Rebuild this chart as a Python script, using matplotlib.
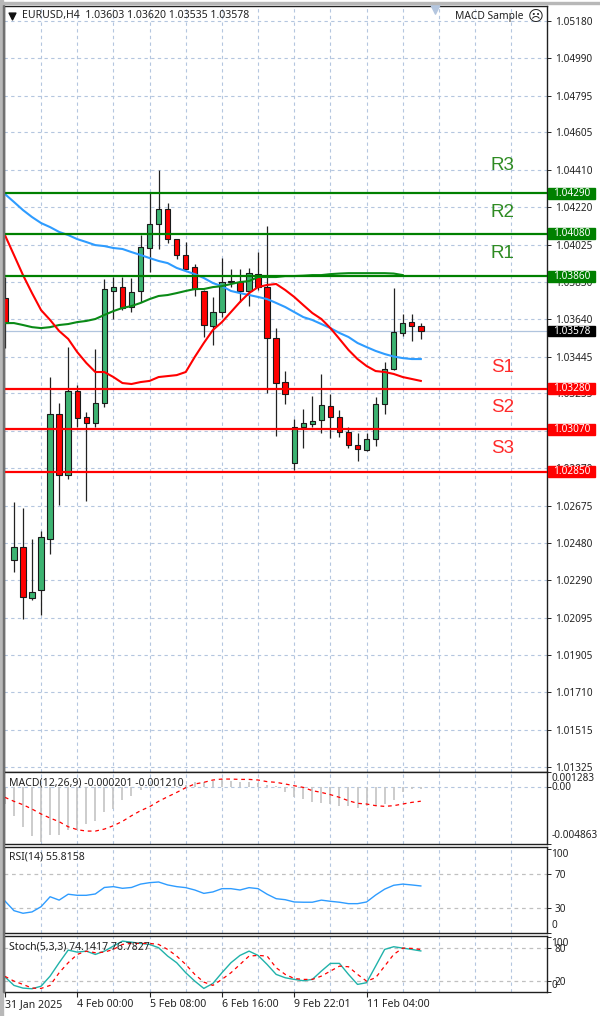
"""EURUSD H4 terminal screenshot: candles, MAs, S/R levels, MACD, RSI, Stoch."""

import matplotlib
matplotlib.use("Agg")
import matplotlib.pyplot as plt  # noqa: E402
from matplotlib.patches import Rectangle  # noqa: E402

opens = [1.03748, 1.02394, 1.02460, 1.02200, 1.02238, 1.02505, 1.03149, 1.02832, 1.03268, 1.03132,
         1.03101, 1.03207, 1.03785, 1.03804, 1.03703, 1.03785, 1.04005, 1.04129, 1.04207, 1.04053,
         1.03972, 1.03909, 1.03786, 1.03604, 1.03675, 1.03830, 1.03833, 1.03785, 1.03873, 1.03807,
         1.03540, 1.03313, 1.02894, 1.03083, 1.03097, 1.03118, 1.03190, 1.03135, 1.03056, 1.02990,
         1.02965, 1.03018, 1.03201, 1.03380, 1.03569, 1.03626, 1.03603]
highs = [1.03857, 1.02694, 1.02663, 1.02503, 1.02544, 1.03342, 1.03206, 1.03497, 1.03299, 1.03158,
         1.03485, 1.03847, 1.03859, 1.03859, 1.03852, 1.04074, 1.04291, 1.04410, 1.04239, 1.04053,
         1.04036, 1.03923, 1.03790, 1.03755, 1.03954, 1.03897, 1.03897, 1.03902, 1.03985, 1.04121,
         1.03592, 1.03373, 1.03122, 1.03173, 1.03244, 1.03355, 1.03251, 1.03170, 1.03083, 1.03049,
         1.03049, 1.03238, 1.03419, 1.03799, 1.03666, 1.03666, 1.03620]
lows = [1.03490, 1.02334, 1.02090, 1.02188, 1.02110, 1.02424, 1.02679, 1.02813, 1.03080, 1.02701,
        1.03082, 1.03187, 1.03640, 1.03687, 1.03678, 1.03729, 1.03883, 1.04000, 1.04031, 1.03952,
        1.03900, 1.03760, 1.03545, 1.03505, 1.03652, 1.03807, 1.03729, 1.03707, 1.03790, 1.03259,
        1.03035, 1.03199, 1.02860, 1.02972, 1.03083, 1.03052, 1.03023, 1.03029, 1.02972, 1.02908,
        1.02959, 1.02984, 1.03147, 1.03377, 1.03552, 1.03526, 1.03535]
closes = [1.03619, 1.02460, 1.02202, 1.02231, 1.02512, 1.03149, 1.02832, 1.03268, 1.03130, 1.03101,
          1.03207, 1.03793, 1.03804, 1.03697, 1.03779, 1.04014, 1.04129, 1.04207, 1.04052, 1.03971,
          1.03900, 1.03793, 1.03609, 1.03678, 1.03830, 1.03836, 1.03786, 1.03879, 1.03807, 1.03540,
          1.03307, 1.03252, 1.03083, 1.03101, 1.03114, 1.03195, 1.03135, 1.03056, 1.02990, 1.02967,
          1.03021, 1.03201, 1.03382, 1.03573, 1.03618, 1.03604, 1.03578]

ma_red = [1.04074, 1.03971, 1.03867, 1.03774, 1.03686, 1.03635, 1.03578, 1.03537, 1.03469, 1.03413,
          1.03366, 1.03366, 1.03340, 1.03309, 1.03304, 1.03314, 1.03320, 1.03340, 1.03345, 1.03350,
          1.03366, 1.03444, 1.03516, 1.03583, 1.03624, 1.03676, 1.03728, 1.03774, 1.03805, 1.03816,
          1.03821, 1.03790, 1.03754, 1.03712, 1.03671, 1.03640, 1.03593, 1.03537, 1.03480, 1.03433,
          1.03397, 1.03371, 1.03366, 1.03356, 1.03340, 1.03330, 1.03320]
ma_blue = [1.04286, 1.04245, 1.04203, 1.04167, 1.04136, 1.04115, 1.04090, 1.04074, 1.04053, 1.04038,
           1.04022, 1.04017, 1.04007, 1.04002, 1.03986, 1.03971, 1.03955, 1.03940, 1.03929, 1.03904,
           1.03888, 1.03872, 1.03852, 1.03826, 1.03810, 1.03785, 1.03774, 1.03764, 1.03754, 1.03743,
           1.03723, 1.03702, 1.03676, 1.03650, 1.03635, 1.03614, 1.03593, 1.03568, 1.03547, 1.03516,
           1.03495, 1.03475, 1.03459, 1.03446, 1.03438, 1.03433, 1.03433]
# the green average stops two bars before the others
ma_green = [1.03619, 1.03619, 1.03609, 1.03598, 1.03593, 1.03598, 1.03609, 1.03614, 1.03624, 1.03630,
            1.03640, 1.03661, 1.03681, 1.03697, 1.03707, 1.03723, 1.03743, 1.03759, 1.03764, 1.03774,
            1.03785, 1.03795, 1.03795, 1.03805, 1.03810, 1.03821, 1.03831, 1.03836, 1.03857, 1.03857,
            1.03857, 1.03862, 1.03862, 1.03864, 1.03867, 1.03867, 1.03872, 1.03875, 1.03877, 1.03877,
            1.03877, 1.03877, 1.03877, 1.03875, 1.03867]

macd_hist = [-.00145, -.00245, -.00344, -.00421, -.00467, -.00410, -.00410, -.00364, -.00367, -.00316,
             -.00287, -.00216, -.00188, -.00111, -.00074, -.00026, -.00011, -.00006, -.00003, .00006,
             .00017, .00040, .00046, .00054, .00068, .00051, .00046, .00040, .00034, .00017,
             .00011, -.00046, -.00088, -.00102, -.00131, -.00139, -.00145, -.00159, -.00159, -.00179,
             -.00159, -.00159, -.00145, -.00108, -.00046, -.00017, -.00020]
macd_signal = [-.00088, -.00122, -.00151, -.00188, -.00230, -.00265, -.00296, -.00339, -.00364, -.00376,
               -.00376, -.00359, -.00330, -.00293, -.00245, -.00202, -.00168, -.00122, -.00083, -.00046,
               -.00006, .00026, .00040, .00060, .00068, .00068, .00065, .00065, .00060, .00046,
               .00040, .00026, .00011, -.00003, -.00031, -.00046, -.00065, -.00088, -.00117, -.00139,
               -.00145, -.00159, -.00165, -.00159, -.00145, -.00131, -.00121]
rsi = [38, 26.5, 23.4, 25, 31.2, 43, 39, 46, 44.7, 44.7,
       46.3, 54, 55, 53, 54, 58, 59.7, 60.5, 57, 55,
       53.8, 51, 47, 48.7, 52.6, 52.6, 51, 53.8, 52.6, 46,
       40.7, 39.5, 36.8, 36.5, 36.5, 39, 37.6, 36.5, 34.8, 34.8,
       36.8, 45, 52, 56.6, 58, 57, 55.8]
stoch_main = [27, 11.5, 6.6, 5.4, 10, 28.4, 52.7, 75.7, 72, 73.8,
              67.8, 73.8, 83, 92, 90, 87.8, 86, 80, 64.8, 52.7,
              34.5, 19.3, 6, 15, 34.5, 52.7, 66, 73.8, 66, 49.6,
              31.5, 25.4, 22.4, 20, 22.4, 37.5, 51.5, 51.5, 31.5, 13.3,
              16.4, 46.5, 76.9, 81.8, 79.3, 76.9, 74.14]
stoch_signal = [28, 19.3, 13.3, 6.6, 6, 11.5, 34.5, 52.7, 67.8, 73.8,
                70.9, 72, 76.9, 86, 87.8, 87.8, 87.8, 86, 76.9, 64.8,
                49.6, 31.5, 17.5, 11.5, 22.4, 34.5, 49.6, 64.8, 66, 64.8,
                43.6, 31.5, 24, 22.4, 22.4, 28.4, 37.5, 46.5, 45.4, 31.5,
                19.3, 25.4, 46.5, 67.8, 79.3, 78.7, 76.78]

price_ticks = [1.05180, 1.04990, 1.04795, 1.04605, 1.04410, 1.04220, 1.04025, 1.03830, 1.03640, 1.03445,
               1.03255, 1.03060, 1.02870, 1.02675, 1.02480, 1.02290, 1.02095, 1.01905, 1.01710, 1.01515,
               1.01325]
resistance = [1.04290, 1.04080, 1.03860]
support = [1.03280, 1.03070, 1.02850]
res_names = ["R3", "R2", "R1"]
sup_names = ["S1", "S2", "S3"]
res_text_y = [1.04431, 1.04193, 1.03981]
sup_text_y = [1.03387, 1.03180, 1.02973]
last_price = 1.03578
time_pos = [0, 8, 16, 24, 32, 40]
time_labels = ["31 Jan 2025", "4 Feb 00:00", "5 Feb 08:00", "6 Feb 16:00", "9 Feb 22:01", "11 Feb 04:00"]

W, H = 600, 1016
LEFT, RIGHT = 4, 546.5
C_GRID = "#b4c6df"
C_UP = "#3cb371"
C_DOWN = "#ff0000"
C_RES = "#008000"
C_TEXT = "#222222"
FONT = "Noto Sans"

plt.rcParams["font.family"] = [FONT, "DejaVu Sans"]
plt.rcParams["font.size"] = 7.2


def panel(fig, top, bottom):
    ax = fig.add_axes([LEFT / W, 1 - bottom / H, (RIGHT - LEFT) / W, (bottom - top) / H])
    ax.set_xlim(-0.1, 59.9)
    for s in ax.spines.values():
        s.set_linewidth(1.0)
        s.set_color("#202020")
    ax.spines["left"].set_color("#404040")
    ax.yaxis.tick_right()
    ax.tick_params(axis="y", length=3, width=0.7, pad=3, colors=C_TEXT, labelsize=7.2)
    ax.set_xticks([])
    for i in range(4, 60, 4):
        ax.axvline(i, color=C_GRID, lw=0.8, ls=(0, (3, 3)), zorder=1)
    return ax


def side_box(ax, y, text, color):
    ax.add_patch(Rectangle((1.003, y - 0.00028), 0.087, 0.00056, transform=ax.get_yaxis_transform(),
                           color=color, clip_on=False, zorder=6))
    ax.text(1.0465, y, text, transform=ax.get_yaxis_transform(), ha="center", va="center",
            color="white", fontsize=7.2, zorder=7, clip_on=False)


def main():
    fig = plt.figure(figsize=(W / 100, H / 100), dpi=100, facecolor="white")

    # window bevel at the top and left
    fig.add_artist(Rectangle((0, 0), 2.5 / W, 1, transform=fig.transFigure, color="#b8b8b8"))
    fig.add_artist(Rectangle((2.5 / W, 1 - 992 / H), 1.5 / W, 987 / H, transform=fig.transFigure, color="#707070"))
    fig.add_artist(Rectangle((0, 1 - 4 / H), 1, 2 / H, transform=fig.transFigure, color="#b8b8b8"))

    # --- main price panel ---
    ax = panel(fig, 6, 771.5)
    ax.set_ylim(1.01301, 1.05258)
    ax.set_yticks(price_ticks)
    ax.set_yticklabels([f"{t:.5f}" for t in price_ticks])
    for t in price_ticks:
        ax.axhline(t, color=C_GRID, lw=0.8, ls=(0, (3, 3)), zorder=1)
    ax.axhline(last_price, color="#b0c4de", lw=0.9, zorder=1.5)

    x = list(range(len(closes)))
    ax.vlines(x, lows, highs, color="#222222", lw=0.9, zorder=2)
    for i in x:
        bottom, top = sorted((opens[i], closes[i]))
        color = C_UP if closes[i] >= opens[i] else C_DOWN
        ax.bar(i, max(top - bottom, 0.00003), bottom=bottom, width=0.6, color=color,
               edgecolor="#1a1a1a", linewidth=0.8, zorder=3)

    ax.plot(x, ma_blue, color="#2e9cff", lw=1.5, zorder=4)
    ax.plot(range(len(ma_green)), ma_green, color="#0a8a16", lw=1.5, zorder=4)
    ax.plot(x, ma_red, color=C_DOWN, lw=1.5, zorder=4)

    for lev in resistance:
        ax.axhline(lev, color=C_RES, lw=1.6, zorder=5)
        side_box(ax, lev, f"{lev:.5f}", C_RES)
    for lev in support:
        ax.axhline(lev, color=C_DOWN, lw=1.6, zorder=5)
        side_box(ax, lev, f"{lev:.5f}", C_DOWN)
    side_box(ax, last_price, f"{last_price:.5f}", "#000000")

    for name, y in zip(res_names, res_text_y):
        ax.text(53.75, y, name, color="#2e8b22", fontsize=13.5, family="Liberation Sans", va="center", zorder=6)
    for name, y in zip(sup_names, sup_text_y):
        ax.text(53.75, y, name, color="#ff2a2a", fontsize=13.5, family="Liberation Sans", va="center", zorder=6)

    def top_text(px, py, s, **kw):
        fig.text(px / W, 1 - py / H, s, va="center", color=C_TEXT, **kw)

    top_text(22, 15.5, "EURUSD,H4  1.03603 1.03620 1.03535 1.03578", fontsize=7.55)
    top_text(455, 16, "MACD Sample", fontsize=7.4)
    top_text(527.5, 16, "\u2639", fontsize=11, family="DejaVu Sans")
    # little black drop-down triangle and the grey shift marker on the top edge
    ax.scatter([11.5 / W], [1 - 15.5 / H], marker="v", s=24, color="#111111", transform=fig.transFigure,
               clip_on=False, zorder=8)
    ax.scatter([435 / W], [1 - 9 / H], marker="v", s=46, color="#b4c6df", transform=fig.transFigure,
               clip_on=False, zorder=8)

    # --- MACD ---
    ax = panel(fig, 772, 844)
    ax.set_ylim(-0.004863, 0.001283)
    ax.axhline(0, color=C_GRID, lw=0.8, ls=(0, (3, 3)), zorder=1)
    ax.vlines(x, 0, macd_hist, color="#c4c4c4", lw=1.2, zorder=2)
    ax.plot(x, macd_signal, color=C_DOWN, lw=0.9, ls=(0, (3, 3)), zorder=3)
    ax.set_yticks([0.001283, 0.0, -0.004863])
    ax.set_yticklabels([])
    tr = ax.get_yaxis_transform()
    ax.text(1.009, 0.00069, "0.001283", transform=tr, va="center", clip_on=False, color=C_TEXT)
    ax.text(1.009, 0.0, "0.00", transform=tr, va="center", clip_on=False, color=C_TEXT)
    ax.text(1.009, -0.00416, "-0.004863", transform=tr, va="center", clip_on=False, color=C_TEXT)
    top_text(9, 783, "MACD(12,26,9) -0.000201 -0.001210", fontsize=7.55, zorder=9)

    # --- RSI ---
    ax = panel(fig, 847, 933)
    ax.set_ylim(0, 102)
    for lev in (70, 30):
        ax.axhline(lev, color="#c0c0c0", lw=0.9, ls=(0, (3, 3)), zorder=1)
    ax.plot(x, rsi, color="#2e9cff", lw=1.0, zorder=3)
    ax.set_yticks([100, 70, 30, 0])
    ax.set_yticklabels(["", "70", "30", ""])
    tr = ax.get_yaxis_transform()
    ax.text(1.009, 93, "100", transform=tr, va="center", clip_on=False, color=C_TEXT)
    ax.text(1.009, 8.6, "0", transform=tr, va="center", clip_on=False, color=C_TEXT)
    top_text(9, 857, "RSI(14) 55.8158", fontsize=7.55, zorder=9)

    # --- Stochastic ---
    ax = panel(fig, 936, 992)
    ax.set_ylim(-0.5, 101.3)
    for lev in (80, 20):
        ax.axhline(lev, color="#c0c0c0", lw=0.9, ls=(0, (3, 3)), zorder=1)
    ax.plot(x, stoch_main, color="#20b2aa", lw=1.0, zorder=3)
    ax.plot(x, stoch_signal, color=C_DOWN, lw=0.9, ls=(0, (3, 3)), zorder=4)
    ax.set_yticks([100, 80, 20, 0])
    ax.set_yticklabels(["", "80", "20", ""])
    tr = ax.get_yaxis_transform()
    ax.text(1.009, 88, "100", transform=tr, va="center", clip_on=False, color=C_TEXT)
    ax.text(1.009, 12, "0", transform=tr, va="center", clip_on=False, color=C_TEXT)
    top_text(9, 947, "Stoch(5,3,3) 74.1417 76.7827", fontsize=7.55, zorder=9)

    ax.set_xticks(time_pos)
    ax.set_xticklabels(time_labels, ha="left", color=C_TEXT, fontsize=7.6)
    ax.tick_params(axis="x", length=3.5, width=0.8, pad=1.5, colors=C_TEXT)

    fig.savefig("out.png", dpi=100)


if __name__ == "__main__":
    main()
